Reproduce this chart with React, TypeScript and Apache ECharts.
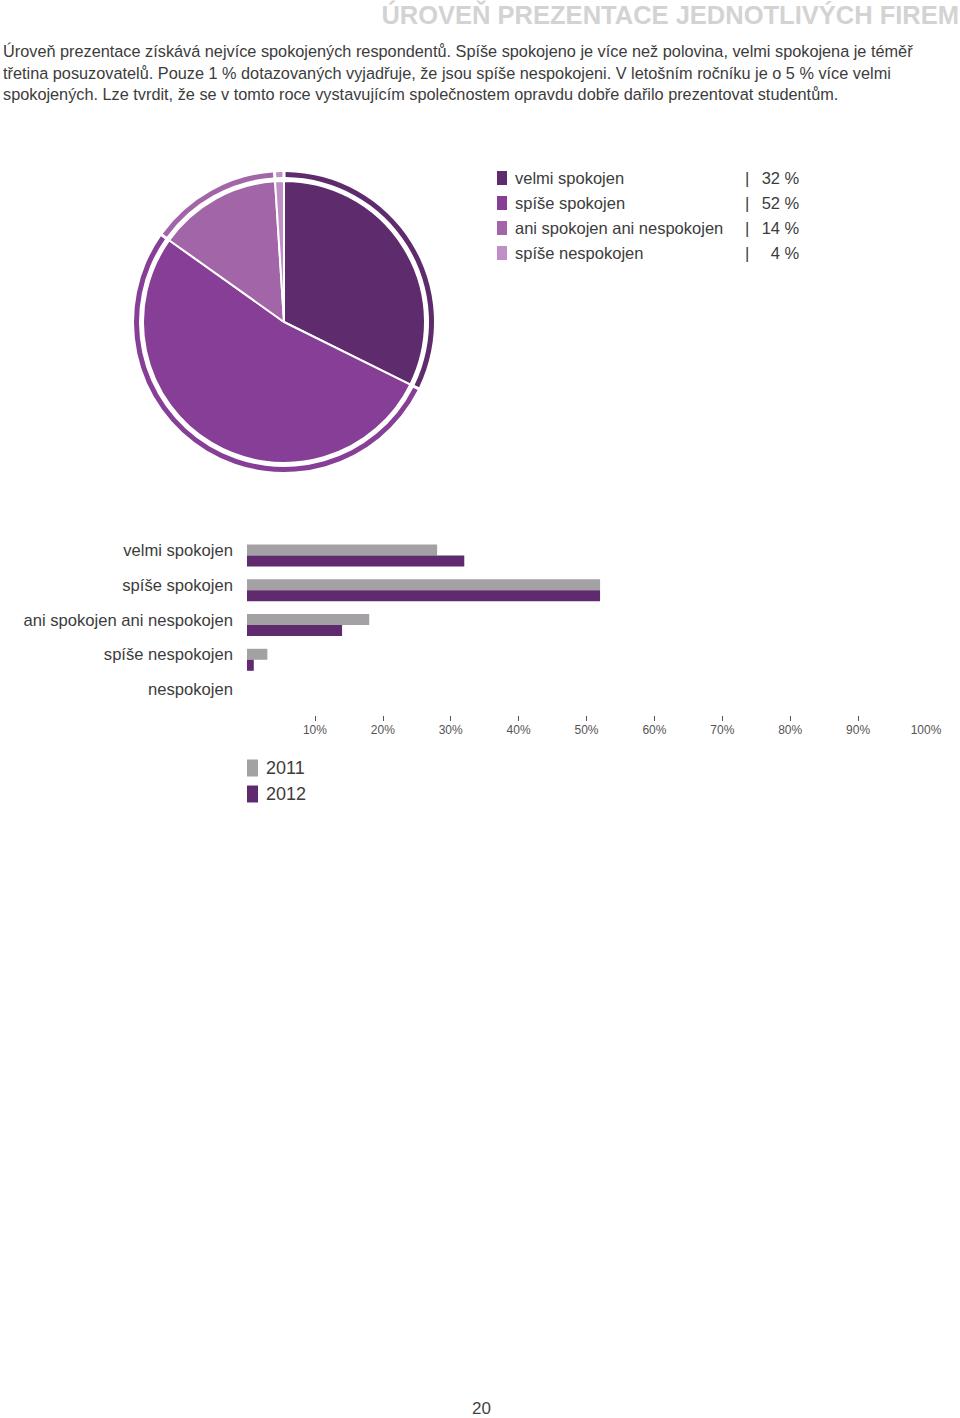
import React, { useEffect, useRef } from "react";
import * as echarts from "echarts";

const titleText = "ÚROVEŇ PREZENTACE JEDNOTLIVÝCH FIREM";
const bodyLines = [
  "Úroveň prezentace získává nejvíce spokojených respondentů. Spíše spokojeno je více než polovina, velmi spokojena je téměř",
  "třetina posuzovatelů. Pouze 1 % dotazovaných vyjadřuje, že jsou spíše nespokojeni. V letošním ročníku je o 5 % více velmi",
  "spokojených. Lze tvrdit, že se v tomto roce vystavujícím společnostem opravdu dobře dařilo prezentovat studentům.",
];
const pageNumber = "20";

const pieNames = ["velmi spokojen", "spíše spokojen", "ani spokojen ani nespokojen", "spíše nespokojen"];
const pieValues = [32, 52, 14, 1];
const pieLegendPercents = ["32 %", "52 %", "14 %", "4 %"];
const pieColors = ["#5e2c6d", "#863e96", "#a165a8", "#c08ec6"];

const barCategories = ["velmi spokojen", "spíše spokojen", "ani spokojen ani nespokojen", "spíše nespokojen", "nespokojen"];
const values2011 = [28, 52, 18, 3, 0];
const values2012 = [32, 52, 14, 1, 0];
const seriesNames = ["2011", "2012"];
const barColors = ["#a4a1a4", "#5f2b6e"];
const tickValues = [10, 20, 30, 40, 50, 60, 70, 80, 90];
const tickLabelValues = [10, 20, 30, 40, 50, 60, 70, 80, 90, 100];

const FONT = "'Liberation Sans', Arial, sans-serif";
const TEXT = "#3c3c3c";

export default function App() {
  const ref = useRef<HTMLDivElement>(null);
  useEffect(() => {
    if (!ref.current) return;
    const chart = echarts.init(ref.current, undefined, { renderer: "svg" });
    const pieData = pieNames.map((n, i) => ({ name: n, value: pieValues[i], itemStyle: { color: pieColors[i] } }));
    const pctMap: Record<string, string> = {};
    pieNames.forEach((n, i) => (pctMap[n] = pieLegendPercents[i]));

    const option: any = {
      animation: false,
      textStyle: { fontFamily: FONT },
      graphic: [
        {
          type: "text",
          right: 1,
          top: 2,
          style: { text: titleText, fontSize: 25.5, fontWeight: "bold", fill: "#d3d3d3", fontFamily: FONT },
        },
        ...bodyLines.map((t, i) => ({
          type: "text",
          left: 3,
          top: 43 + i * 21.5,
          style: { text: t, fontSize: 16.3, fill: TEXT, fontFamily: FONT },
        })),
        {
          type: "text",
          left: 472,
          top: 1400,
          style: { text: pageNumber, fontSize: 17, fill: "#444", fontFamily: FONT },
        },
      ],
      legend: [
        {
          data: pieNames,
          orient: "vertical",
          left: 495,
          top: 169,
          padding: 0,
          itemWidth: 12,
          itemHeight: 16,
          itemGap: 7,
          icon: "rect",
          selectedMode: false,
          formatter: (name: string) => `{a|${name}}{b||}{c|${pctMap[name]}}`,
          textStyle: {
            fontSize: 16.5,
            color: TEXT,
            lineHeight: 16,
            rich: {
              a: { width: 230, fontSize: 16.5, lineHeight: 16, color: TEXT, fontFamily: FONT, padding: [0, 0, 0, 2] },
              b: { fontSize: 16.5, lineHeight: 16, color: TEXT, fontFamily: FONT },
              c: { width: 50, align: "right", fontSize: 16.5, lineHeight: 16, color: TEXT, fontFamily: FONT },
            },
          },
        },
        {
          data: seriesNames,
          orient: "vertical",
          left: 247,
          top: 759,
          padding: 0,
          itemWidth: 11,
          itemHeight: 17,
          itemGap: 8,
          icon: "rect",
          selectedMode: false,
          textStyle: { fontSize: 18, color: TEXT, fontFamily: FONT, padding: [0, 0, 0, 3] },
        },
      ],
      grid: { left: 247, right: 34, top: 538, height: 174, containLabel: false },
      xAxis: {
        type: "value",
        min: 0,
        max: 100,
        interval: 10,
        offset: 4,
        axisLine: { show: false },
        splitLine: { show: false },
        axisTick: { show: true, length: 5, customValues: tickValues, lineStyle: { color: "#555", width: 1 } },
        axisLabel: {
          customValues: tickLabelValues,
          formatter: (v: number) => `${v}%`,
          fontSize: 12,
          color: "#555",
          margin: 8,
          fontFamily: FONT,
        },
      },
      yAxis: {
        type: "category",
        data: barCategories,
        inverse: true,
        axisLine: { show: false },
        axisTick: { show: false },
        axisLabel: {
          margin: 14,
          formatter: (v: string) => `{a|${v}}`,
          rich: {
            a: { fontSize: 16.6, color: TEXT, fontFamily: FONT, padding: [0, 0, 10, 0] },
          },
        },
      },
      series: [
        {
          name: "inner",
          type: "pie",
          center: [284, 322],
          radius: [0, 141],
          startAngle: 90,
          clockwise: true,
          silent: true,
          label: { show: false },
          labelLine: { show: false },
          itemStyle: { borderColor: "#fff", borderWidth: 2 },
          data: pieData,
        },
        {
          name: "ring",
          type: "pie",
          center: [284, 322],
          radius: [145, 150],
          startAngle: 90,
          clockwise: true,
          silent: true,
          padAngle: 1.2,
          label: { show: false },
          labelLine: { show: false },
          data: pieData,
        },
        {
          name: seriesNames[0],
          type: "bar",
          data: values2011,
          barWidth: 11,
          barGap: "0%",
          itemStyle: { color: barColors[0] },
          silent: true,
        },
        {
          name: seriesNames[1],
          type: "bar",
          data: values2012,
          barWidth: 11,
          barGap: "0%",
          itemStyle: { color: barColors[1] },
          silent: true,
        },
      ],
    };
    chart.setOption(option);
    return () => chart.dispose();
  }, []);
  return (
    <div
      ref={ref}
      style={{ position: "absolute", left: 0, top: 0, width: 960, height: 1418, background: "#fff" }}
    />
  );
}
